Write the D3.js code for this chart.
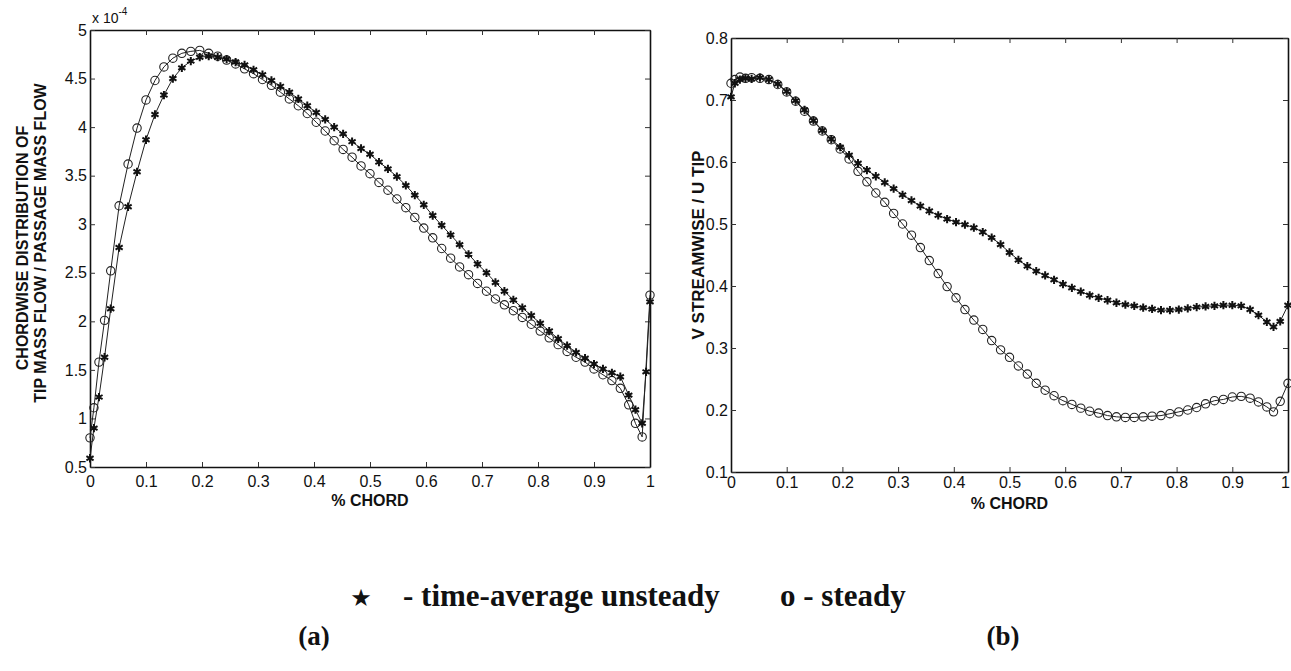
<!DOCTYPE html>
<html>
<head>
<meta charset="utf-8">
<script src="https://cdn.jsdelivr.net/npm/d3@7"></script>
<style>
  body { margin: 0; background: #fff; }
  svg text { font-family: "Liberation Sans", Arial, Helvetica, sans-serif; fill: #111; }
</style>
</head>
<body>
<svg id="chart" width="1291" height="671"></svg>
<script>
// chordwise stations (fraction of chord)
var chord = [0, 0.007, 0.016, 0.026, 0.037, 0.052, 0.068, 0.084, 0.100,
  0.116, 0.132, 0.148, 0.164, 0.180, 0.196, 0.212, 0.228, 0.244, 0.260,
  0.276, 0.292, 0.308, 0.324, 0.340, 0.356, 0.372, 0.388, 0.404, 0.420,
  0.436, 0.452, 0.468, 0.484, 0.500, 0.516, 0.532, 0.548, 0.564, 0.580,
  0.596, 0.612, 0.628, 0.644, 0.660, 0.676, 0.692, 0.708, 0.724, 0.740,
  0.756, 0.772, 0.788, 0.804, 0.820, 0.836, 0.852, 0.868, 0.884, 0.900,
  0.916, 0.932,
  0.947, 0.962, 0.974, 0.986, 0.993, 1.000];

// (a) tip mass flow / passage mass flow, x 1e-4
var massUnsteady = [0.59, 0.90, 1.22, 1.63, 2.13, 2.76, 3.18, 3.54, 3.87,
  4.13, 4.33, 4.50, 4.61, 4.68, 4.72, 4.73, 4.72, 4.70, 4.67,
  4.64, 4.59, 4.54, 4.48, 4.42, 4.36, 4.29, 4.22, 4.15, 4.08,
  4.00, 3.93, 3.85, 3.78, 3.72, 3.64, 3.57, 3.49, 3.40, 3.30,
  3.20, 3.09, 2.99, 2.89, 2.79, 2.69, 2.59, 2.50, 2.40, 2.31,
  2.22, 2.14, 2.06, 1.98, 1.90, 1.82, 1.75, 1.68, 1.62, 1.56,
  1.51, 1.47,
  1.43, 1.24, 1.09, 0.95, 1.48, 2.20];
var massSteady = [0.80, 1.11, 1.58, 2.01, 2.52, 3.19, 3.62, 3.99, 4.28,
  4.48, 4.62, 4.71, 4.76, 4.78, 4.79, 4.76, 4.73, 4.69, 4.65,
  4.60, 4.55, 4.49, 4.43, 4.36, 4.29, 4.22, 4.14, 4.05, 3.96,
  3.86, 3.77, 3.69, 3.60, 3.52, 3.43, 3.35, 3.26, 3.17, 3.07,
  2.96, 2.86, 2.75, 2.65, 2.56, 2.48, 2.39, 2.31, 2.23, 2.17,
  2.11, 2.04, 1.97, 1.90, 1.83, 1.76, 1.69, 1.63, 1.58, 1.51,
  1.45, 1.39,
  1.31, 1.14, 0.95, 0.81, null, 2.27];

// (b) V streamwise / U tip
var velUnsteady = [0.705, 0.727, 0.733, 0.735, 0.734, 0.736, 0.733, 0.726, 0.714,
  0.699, 0.684, 0.667, 0.651, 0.637, 0.624, 0.611, 0.598, 0.587, 0.577,
  0.567, 0.557, 0.547, 0.538, 0.529, 0.521, 0.514, 0.508, 0.503, 0.499,
  0.494, 0.487, 0.478, 0.467, 0.454, 0.442, 0.432, 0.424, 0.417, 0.410,
  0.403, 0.397, 0.391, 0.385, 0.381, 0.377, 0.373, 0.370, 0.368, 0.365,
  0.363, 0.361, 0.361, 0.362, 0.364, 0.366, 0.367, 0.368, 0.369, 0.369,
  0.368, 0.362,
  0.353, 0.342, 0.334, 0.343, null, 0.369];
var velSteady = [0.727, 0.733, 0.737, 0.735, 0.736, 0.735, 0.733, 0.725, 0.713,
  0.698, 0.682, 0.666, 0.650, 0.636, 0.621, 0.605, 0.585, 0.568, 0.550,
  0.535, 0.517, 0.500, 0.482, 0.462, 0.441, 0.420, 0.399, 0.381, 0.362,
  0.345, 0.330, 0.312, 0.297, 0.285, 0.271, 0.258, 0.243, 0.232, 0.223,
  0.215, 0.209, 0.203, 0.198, 0.195, 0.191, 0.189, 0.188, 0.188, 0.189,
  0.190, 0.191, 0.194, 0.197, 0.200, 0.204, 0.210, 0.215, 0.217, 0.221,
  0.222, 0.219,
  0.213, 0.205, 0.197, 0.214, null, 0.243];

var chordTicks = [0, 0.1, 0.2, 0.3, 0.4, 0.5, 0.6, 0.7, 0.8, 0.9, 1];
var massTicks = [0.5, 1, 1.5, 2, 2.5, 3, 3.5, 4, 4.5, 5];
var velTicks = [0.1, 0.2, 0.3, 0.4, 0.5, 0.6, 0.7, 0.8];

var svg = d3.select("#chart");
var fmt = d3.format("~g");

function drawPanel(box, yDomain, yTicks, unsteady, steady, opts) {
  var x = d3.scaleLinear().domain([0, 1]).range([box.left, box.right]),
      y = d3.scaleLinear().domain(yDomain).range([box.bottom, box.top]);

  var g = svg.append("g");

  // axes, matlab style: inward ticks all round, labels left + bottom
  var xAxis = g.append("g")
      .attr("transform", "translate(0," + box.bottom + ")")
      .call(d3.axisBottom(x).tickValues(chordTicks).tickSize(-5).tickSizeOuter(0)
        .tickPadding(opts.xPad).tickFormat(fmt));
  g.append("g")
      .attr("transform", "translate(0," + box.top + ")")
      .call(d3.axisTop(x).tickValues(chordTicks).tickSize(-5).tickSizeOuter(0).tickFormat(""));
  g.append("g")
      .attr("transform", "translate(" + box.left + ",0)")
      .call(d3.axisLeft(y).tickValues(yTicks).tickSize(-5).tickSizeOuter(0)
        .tickPadding(3).tickFormat(fmt));
  g.append("g")
      .attr("transform", "translate(" + box.right + ",0)")
      .call(d3.axisRight(y).tickValues(yTicks).tickSize(-5).tickSizeOuter(0).tickFormat(""));

  g.selectAll(".tick text").style("font-size", "16px").attr("fill", "#111");
  g.selectAll(".domain").attr("stroke", "#111").attr("stroke-width", 1.6);
  g.selectAll(".tick line").attr("stroke", "#333");

  // keep the last chord label inside the page
  if (opts.nudgeLast) {
    xAxis.selectAll(".tick text").filter(function(d) { return d === 1; }).attr("dx", -3);
  }

  var line = d3.line()
      .x(function(d) { return x(d[0]); })
      .y(function(d) { return y(d[1]); });

  function pairs(vals) {
    return chord.map(function(c, i) { return [c, vals[i]]; })
      .filter(function(d) { return d[1] !== null; });
  }

  var uData = pairs(unsteady), sData = pairs(steady);

  g.append("path").datum(sData).attr("d", line)
      .attr("fill", "none").attr("stroke", "#222").attr("stroke-width", 1);
  g.append("path").datum(uData).attr("d", line)
      .attr("fill", "none").attr("stroke", "#222").attr("stroke-width", 1);

  g.selectAll(".circ").data(sData).enter().append("path")
      .attr("class", "circ")
      .attr("transform", function(d) { return "translate(" + x(d[0]) + "," + y(d[1]) + ")"; })
      .attr("d", d3.symbol(d3.symbolCircle, 55))
      .attr("fill", "none").attr("stroke", "#222").attr("stroke-width", 1.1);

  g.selectAll(".star").data(uData).enter().append("path")
      .attr("class", "star")
      .attr("transform", function(d) { return "translate(" + x(d[0]) + "," + y(d[1]) + ")"; })
      .attr("d", d3.symbol(d3.symbolAsterisk, 48))
      .attr("fill", "none").attr("stroke", "#111").attr("stroke-width", 2);

  g.append("text")
      .attr("x", (box.left + box.right) / 2)
      .attr("y", opts.titleY)
      .attr("text-anchor", "middle")
      .style("font-size", "16px").style("font-weight", "bold")
      .text("% CHORD");

  return g;
}

var gA = drawPanel({left: 90, right: 650, top: 30, bottom: 467},
  [0.5, 5], massTicks, massUnsteady, massSteady, {xPad: 9, titleY: 506});

gA.append("text")
    .attr("transform", "translate(28,248) rotate(-90)")
    .attr("text-anchor", "middle")
    .style("font-size", "16px").style("font-weight", "bold")
    .text("CHORDWISE DISTRIBUTION OF");
gA.append("text")
    .attr("transform", "translate(46,243) rotate(-90)")
    .attr("text-anchor", "middle")
    .style("font-size", "16px").style("font-weight", "bold")
    .text("TIP MASS FLOW / PASSAGE MASS FLOW");

var expo = gA.append("text").attr("x", 92).attr("y", 23).style("font-size", "14px");
expo.append("tspan").text("x 10");
expo.append("tspan").attr("dy", -8).style("font-size", "10px").text("-4");

var gB = drawPanel({left: 731, right: 1288, top: 38, bottom: 472},
  [0.1, 0.8], velTicks, velUnsteady, velSteady, {xPad: 5, titleY: 509, nudgeLast: true});

gB.append("text")
    .attr("transform", "translate(704,245) rotate(-90)")
    .attr("text-anchor", "middle")
    .style("font-size", "17px").style("font-weight", "bold")
    .text("V STREAMWISE / U TIP");

// legend and captions
var serif = "'Liberation Serif', 'Times New Roman', serif";
svg.append("text")
    .attr("x", 361).attr("y", 606)
    .attr("text-anchor", "middle")
    .style("font-family", "'DejaVu Sans', sans-serif")
    .style("font-size", "24px")
    .text("\u2605");
svg.append("text")
    .attr("x", 403).attr("y", 606)
    .style("font-family", serif).style("font-size", "31px").style("font-weight", "bold")
    .text("- time-average unsteady");
svg.append("text")
    .attr("x", 780).attr("y", 606)
    .style("font-family", serif).style("font-size", "31px").style("font-weight", "bold")
    .text("o - steady");
svg.append("text")
    .attr("x", 314).attr("y", 645)
    .attr("text-anchor", "middle")
    .style("font-family", serif).style("font-size", "27px").style("font-weight", "bold")
    .text("(a)");
svg.append("text")
    .attr("x", 1003).attr("y", 645)
    .attr("text-anchor", "middle")
    .style("font-family", serif).style("font-size", "27px").style("font-weight", "bold")
    .text("(b)");
</script>
</body>
</html>
